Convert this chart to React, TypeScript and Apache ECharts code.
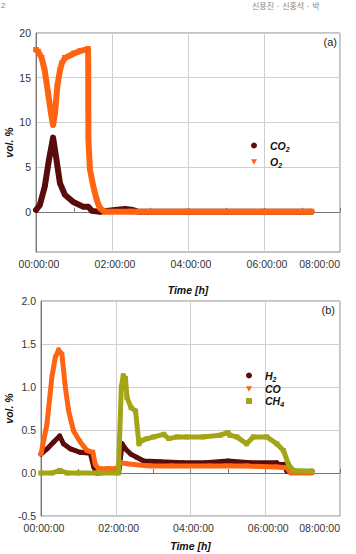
import React, { useEffect, useRef } from 'react';
import * as echarts from 'echarts';

// ---------- data (time in hours, values in vol. %) ----------
const xTicksHours = [0, 2, 4, 6, 8];
const yTicksA = [0, 5, 10, 15, 20];
const yTicksB = [-0.5, 0, 0.5, 1, 1.5, 2];

const co2Time = [0, 0.1, 0.23, 0.34, 0.45, 0.54, 0.63, 0.76, 0.98, 1.25, 1.38, 1.47, 1.68, 2.2, 2.35, 2.55, 2.7, 4, 6, 7.25];
const co2Vol = [0.2, 0.75, 2.8, 5.8, 8.3, 5.8, 3.2, 1.9, 1.1, 0.55, 0.55, 0.1, 0, 0.25, 0.3, 0.2, 0, 0, 0, 0];

const o2Time = [0, 0.06, 0.15, 0.23, 0.32, 0.41, 0.45, 0.5, 0.56, 0.63, 0.68, 0.76, 1.0, 1.17, 1.37, 1.376, 1.376, 1.376, 1.378, 1.38, 1.4, 1.42, 1.51, 1.6, 1.68, 1.81, 2.5, 4, 6, 7.25];
const o2Vol = [18.1, 17.9, 17.2, 15.8, 13.2, 10.6, 9.7, 11.0, 14.0, 15.8, 16.6, 17.2, 17.7, 18.0, 18.2, 16, 14, 12, 10, 8, 6.3, 4.7, 2.8, 1.3, 0.4, 0, 0, 0, 0, 0];

const h2Time = [0, 0.16, 0.34, 0.5, 0.6, 0.79, 1.05, 1.32, 1.41, 1.5, 1.8, 2.08, 2.17, 2.26, 2.4, 2.57, 2.75, 3.2, 3.8, 4.4, 5.0, 5.6, 6.31, 6.35, 6.5, 6.58, 6.7, 7.25];
const h2Vol = [0.22, 0.28, 0.36, 0.43, 0.34, 0.28, 0.24, 0.23, 0.07, 0.0, 0.01, 0.01, 0.34, 0.28, 0.22, 0.18, 0.14, 0.13, 0.12, 0.12, 0.14, 0.12, 0.12, 0.1, 0.1, 0.02, 0.01, 0.02];

const coTime = [0, 0.16, 0.29, 0.38, 0.47, 0.56, 0.65, 0.74, 0.87, 1.05, 1.23, 1.39, 1.45, 1.54, 1.8, 2.03, 2.1, 2.48, 2.92, 3.5, 4.5, 5.5, 6.3, 6.58, 6.67, 7.25];
const coVol = [0.22, 0.57, 1.11, 1.34, 1.43, 1.38, 1.0, 0.72, 0.49, 0.36, 0.26, 0.24, 0.1, 0.05, 0.05, 0.05, 0.12, 0.1, 0.08, 0.08, 0.08, 0.08, 0.07, 0.06, 0.0, 0.0];

const ch4Time = [0, 0.3, 0.5, 0.7, 1.0, 1.5, 2.07, 2.15, 2.2, 2.26, 2.3, 2.41, 2.53, 2.62, 2.7, 2.84, 3.02, 3.28, 3.42, 3.64, 3.9, 4.35, 4.79, 5.0, 5.05, 5.24, 5.5, 5.68, 6.04, 6.31, 6.49, 6.62, 6.75, 7.25];
const ch4Vol = [0, 0, 0.03, 0, 0, 0, 0, 1.0, 1.13, 1.1, 0.88, 0.76, 0.72, 0.34, 0.38, 0.4, 0.42, 0.45, 0.4, 0.42, 0.42, 0.42, 0.44, 0.47, 0.44, 0.42, 0.34, 0.42, 0.42, 0.34, 0.26, 0.1, 0.03, 0.02];

// ---------- styles ----------
const FONT = "'Liberation Sans', Arial, sans-serif";
const MAROON = '#5a0c0c';
const ORANGE = '#ff6412';
const OLIVE = '#a3a416';
const TRI_DOWN = 'path://M0,0 L10,0 L5,9 Z';

const pairs = (t: number[], v: number[]) => t.map((x, i) => [x, v[i]]);
const hhmmss = (v: number) => `${String(v).padStart(2, '0')}:00:00`;

const legendNames: Record<string, string> = {
  CO2: '{m|CO}{s|2}',
  O2: '{m|O}{s|2}',
  H2: '{m|H}{s|2}',
  CO: '{m|CO}',
  CH4: '{m|CH}{s|4}',
};

const legendText = {
  fontFamily: FONT,
  color: '#111',
  padding: [0, 0, 0, 8],
  rich: {
    m: { fontFamily: FONT, fontSize: 10.5, fontWeight: 'bold', fontStyle: 'italic', color: '#111', lineHeight: 14 },
    s: { fontFamily: FONT, fontSize: 7, fontWeight: 'bold', fontStyle: 'italic', color: '#111', padding: [5, 0, 0, 0], verticalAlign: 'bottom' },
  },
};

const xAxisBase = (gridIndex: number, nameGap: number) => ({
  gridIndex,
  type: 'value',
  min: xTicksHours[0],
  max: xTicksHours[xTicksHours.length - 1],
  interval: 2,
  name: 'Time [h]',
  nameLocation: 'middle',
  nameGap,
  nameTextStyle: { fontFamily: FONT, fontSize: 10.5, fontWeight: 'bold', fontStyle: 'italic', color: '#111' },
  axisLine: { show: true, lineStyle: { color: '#777', width: 1 } },
  axisTick: { show: true, inside: true, length: 4, lineStyle: { color: '#777' } },
  minorTick: { show: true, splitNumber: 2, length: 4, lineStyle: { color: '#777' } },
  splitLine: { show: true, lineStyle: { color: '#cfcfcf', width: 1 } },
  axisLabel: { formatter: hhmmss, fontFamily: FONT, fontSize: 10.5, color: '#333', margin: 6, padding: [0, 0, 0, 6], alignMaxLabel: 'right' },
});

const yName = (nameGap: number) => ({
  name: 'vol. %',
  nameLocation: 'middle',
  nameGap,
  nameMoveOverlap: false,
  nameTextStyle: { fontFamily: FONT, fontSize: 10.5, fontWeight: 'bold', fontStyle: 'italic', color: '#111' },
});

const lineSeries = (name: string, xi: number, data: number[][], color: string, symbol: string, size: number, width: number, z: number) => ({
  type: 'line',
  name,
  xAxisIndex: xi,
  yAxisIndex: xi,
  data,
  symbol,
  symbolSize: size,
  showSymbol: true,
  z,
  lineStyle: { color, width, cap: 'round', join: 'round' },
  itemStyle: { color },
});

export default function App() {
  const ref = useRef<HTMLDivElement>(null);
  useEffect(() => {
    const chart = echarts.init(ref.current!, null, { renderer: 'svg' });
    const option: any = {
      animation: false,
      backgroundColor: '#fff',
      textStyle: { fontFamily: FONT },
      grid: [
        { left: 36, top: 33, right: 16, bottom: 302, show: true, borderColor: '#888', borderWidth: 1, backgroundColor: 'transparent', containLabel: false, outerBoundsMode: 'none' },
        { left: 41, top: 301, right: 16, bottom: 38, show: true, borderColor: '#888', borderWidth: 1, backgroundColor: 'transparent', containLabel: false, outerBoundsMode: 'none' },
      ],
      xAxis: [xAxisBase(0, 32), xAxisBase(1, 24)],
      yAxis: [
        {
          gridIndex: 0,
          type: 'value',
          min: -4.5,
          max: 20,
          ...yName(22),
          axisLine: { show: true, lineStyle: { color: '#777' } },
          axisTick: { show: false, customValues: yTicksA },
          axisLabel: { customValues: yTicksA, fontFamily: FONT, fontSize: 10.5, color: '#333', margin: 5 },
          splitLine: { show: true, lineStyle: { color: '#cfcfcf' } },
        },
        {
          gridIndex: 1,
          type: 'value',
          min: -0.5,
          max: 2,
          ...yName(27),
          axisLine: { show: true, lineStyle: { color: '#777' } },
          axisTick: { show: false, customValues: yTicksB },
          axisLabel: { customValues: yTicksB, formatter: (v: number) => v.toFixed(1), fontFamily: FONT, fontSize: 10.5, color: '#333', margin: 5 },
          splitLine: { show: true, lineStyle: { color: '#cfcfcf' } },
        },
      ],
      legend: [
        {
          data: [{ name: 'CO2', icon: 'circle' }, { name: 'O2', icon: TRI_DOWN }],
          orient: 'vertical',
          left: 251,
          top: 140,
          itemWidth: 6,
          itemHeight: 6,
          itemGap: 4,
          padding: 0,
          formatter: (n: string) => legendNames[n],
          textStyle: legendText,
        },
        {
          data: [{ name: 'H2', icon: 'circle' }, { name: 'CO', icon: TRI_DOWN }, { name: 'CH4', icon: 'rect' }],
          orient: 'vertical',
          left: 246,
          top: 370,
          itemWidth: 6,
          itemHeight: 6,
          itemGap: 1,
          padding: 0,
          formatter: (n: string) => legendNames[n],
          textStyle: legendText,
        },
      ],
      graphic: [
        { type: 'text', right: 19, top: 36, style: { text: '(a)', font: `11px ${FONT}`, fill: '#222' } },
        { type: 'text', right: 21, top: 304, style: { text: '(b)', font: `11px ${FONT}`, fill: '#222' } },
        { type: 'text', left: 1, top: 1, style: { text: '2', font: `8px ${FONT}`, fill: '#888' } },
        { type: 'text', left: 252, top: 1, style: { text: '신용진 · 신홍석 · 박', font: `8px 'Noto Sans CJK KR', sans-serif`, fill: '#888' } },
      ],
      series: [
        lineSeries('CO2', 0, pairs(co2Time, co2Vol), MAROON, 'circle', 5, 6, 2),
        lineSeries('O2', 0, pairs(o2Time, o2Vol), ORANGE, TRI_DOWN, 6, 6, 3),
        lineSeries('H2', 1, pairs(h2Time, h2Vol), MAROON, 'circle', 5, 5, 2),
        lineSeries('CO', 1, pairs(coTime, coVol), ORANGE, TRI_DOWN, 5, 5, 3),
        lineSeries('CH4', 1, pairs(ch4Time, ch4Vol), OLIVE, 'rect', 5, 5, 4),
      ],
    };
    chart.setOption(option);
    return () => chart.dispose();
  }, []);
  return <div ref={ref} style={{ position: 'fixed', left: 0, top: 0, width: 356, height: 554, background: '#fff' }} />;
}
